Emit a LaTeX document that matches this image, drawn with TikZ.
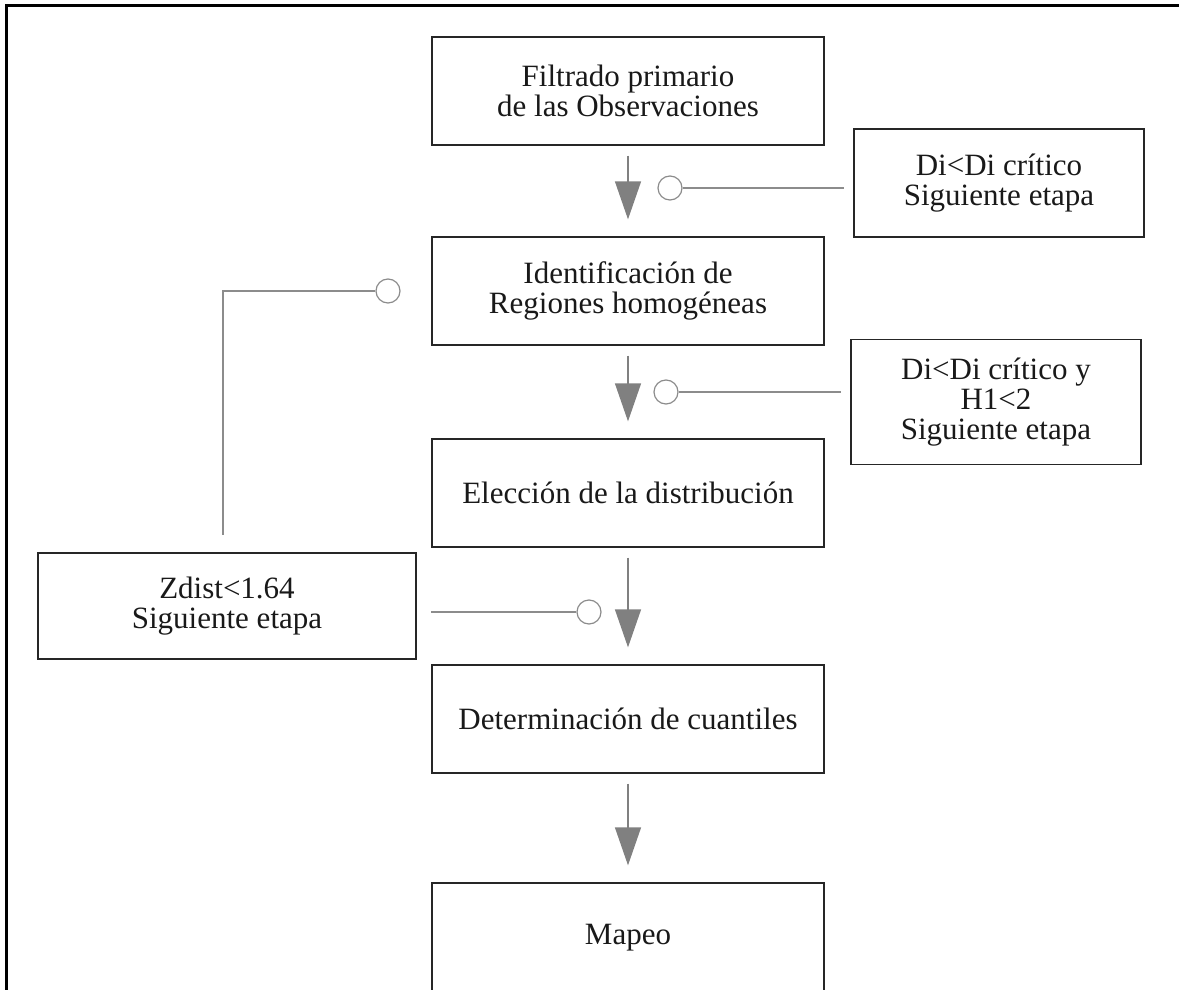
\documentclass[tikz,border=0pt]{standalone}
\usepackage{fontspec}
\setmainfont{Liberation Serif}
\usetikzlibrary{arrows.meta}
\usetikzlibrary{positioning}

\begin{document}
\begin{tikzpicture}[x=1pt, y=-1pt,
    caja/.style={draw=black!85, line width=1.3pt, minimum width=392pt, minimum height=108pt,
      align=center, inner sep=0pt, text=black!90, font=\fontsize{31}{30}\selectfont},
    cond/.style={caja, minimum width=290pt},
    flecha/.style={draw=black!50, line width=1.3pt, shorten <=10pt, shorten >=17pt,
      -{Triangle[length=38pt,width=26pt]}},
    linea/.style={draw=black!45, line width=1.2pt},
    circulo/.style={circle, draw=black!45, line width=1.2pt, minimum size=24pt, inner sep=0pt}]
      \clip (0,0) rectangle (1179,990);
      \draw[line width=3pt] (6,1000) -- (6,6) -- (1190,6);

      \node[caja] (filtrado) at (628,91) {Filtrado primario\\de las Observaciones};
      \node[cond] (criterio1) at (999,183) {Di<Di crítico\\Siguiente etapa};
      \node[caja] (regiones) at (628,291) {Identificación de\\Regiones homogéneas};
      \node[cond, minimum height=125pt] (criterio2) at (996,402) {Di<Di crítico y\\H1<2\\Siguiente etapa};
      \node[caja] (eleccion) at (628,493) {Elección de la distribución};
      \node[cond, minimum width=378pt, minimum height=106pt] (criterio3) at (227,606) {Zdist<1.64\\Siguiente etapa};
      \node[caja] (cuantiles) at (628,719) {Determinación de cuantiles};
      \node[caja, minimum height=110pt] (mapeo) at (628,938) {Mapeo};

      \draw[flecha] (filtrado) -- (regiones);
      \draw[flecha] (regiones) -- (eleccion);
      \draw[flecha] (eleccion) -- (cuantiles);
      \draw[flecha] (cuantiles) -- (mapeo);

      \node[circulo] (paso1) at (670,188) {};
      \draw[linea, shorten >=9pt] (paso1) -- (paso1 -| criterio1.west);
      \node[circulo] (paso2) at (666,392) {};
      \draw[linea, shorten >=9pt] (paso2) -- (paso2 -| criterio2.west);
      \node[circulo] (paso3) at (589,612) {};
      \draw[linea, shorten >=14pt] (paso3) -- (paso3 -| criterio3.east);

      \node[circulo] (paso0) at (388,291) {};
      \coordinate (retorno) at (223,535);
      \draw[linea] (paso0) -| (retorno);
    \end{tikzpicture}
\end{document}
